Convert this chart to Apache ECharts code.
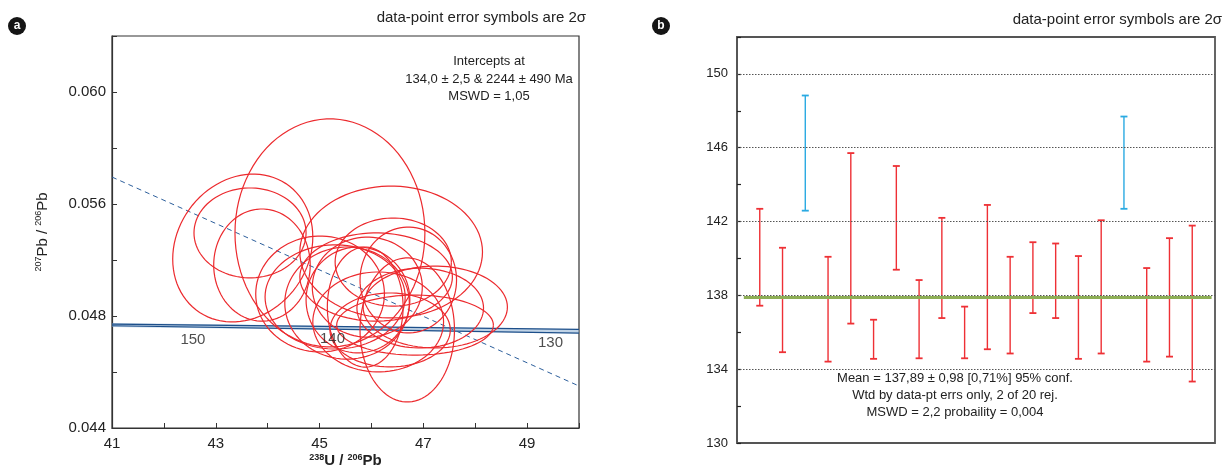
<!DOCTYPE html>
<html>
<head>
<meta charset="utf-8">
<script src="https://cdn.jsdelivr.net/npm/echarts@6/dist/echarts.min.js"></script>
<style>html,body{margin:0;padding:0;background:#fff;}#c{width:1229px;height:465px;}</style>
</head>
<body>
<div id="c"></div>
<script>
// ---------- Panel a: Tera-Wasserburg data ----------
const ellX   = [43.52,43.66,43.89,45.20,46.38,46.69,47.23,46.84,45.01,45.30,45.53,45.92,46.42,46.09,46.36,46.94,45.88,46.71,45.74,46.13];
const ellY   = [0.05257,0.05329,0.05176,0.05329,0.05238,0.04867,0.04976,0.04890,0.05038,0.05024,0.04995,0.05071,0.05190,0.05119,0.04867,0.04971,0.04976,0.05105,0.05010,0.04905];
const ellSx  = [1.35,1.08,0.93,1.83,1.76,0.91,1.39,1.51,1.24,1.35,1.20,1.06,1.12,1.47,1.16,1.22,0.73,0.93,1.00,1.26];
const ellSy  = [0.00352,0.00214,0.00267,0.00543,0.00314,0.00343,0.00195,0.00143,0.00276,0.00248,0.00267,0.00238,0.00210,0.00210,0.00176,0.00190,0.00286,0.00252,0.00252,0.00238];
const ellRho = [0.15,0,0,0,0,0,0,0,0,0,0,0,0,0,0,0,0,0,0,0];

const concX     = [41, 45.5, 50];
const concUpper = [0.04895, 0.04883, 0.04870];
const concLower = [0.04887, 0.04870, 0.04852];
const regX = [41, 50];
const regY = [0.05595, 0.04600];
const ageLabels = ['150','140','130'];
const ageLabelX = [42.56, 45.25, 49.45];
const ageLabelY = [0.04819, 0.04824, 0.04805];

const xTickLabels = ['41','43','45','47','49'];
const yTickLabels = ['0.044','0.048','0.056','0.060'];

// ---------- Panel b: weighted mean data ----------
const ageLow  = [137.44,134.92,142.59,134.41,136.47,134.56,139.39,134.59,136.77,134.59,135.08,134.85,137.04,136.77,134.56,134.85,142.69,134.41,134.68,133.33];
const ageHigh = [142.69,140.58,148.83,140.09,145.71,136.68,145.01,138.83,142.20,137.39,142.90,140.09,140.88,140.81,140.13,142.07,147.69,139.48,141.10,141.78];
const rejected = [0,0,1,0,0,0,0,0,0,0,0,0,0,0,0,0,1,0,0,0];
const meanAge = 137.89;
const gridAges = [134,138,142,146,150];
const bTickLabels = ['130','134','138','142','146','150'];

// ---------- helpers ----------
const FONT = '"Liberation Sans", Arial, Helvetica, sans-serif';
const yStep = (0.060 - 0.044) / (yTickLabels.length - 1);
const yLabelVals = yTickLabels.map((_, i) => 0.044 + i * yStep);
const yTickVals = [];
for (let k = 0; k <= 7; k++) yTickVals.push(0.044 + k * yStep / 2);

const ellData = ellX.map((x, i) => [x, ellY[i], ellSx[i], ellSy[i], ellRho[i]]);
const barData = ageLow.map((lo, i) => [i + 1, lo, ageHigh[i], rejected[i]]);

const chart = echarts.init(document.getElementById('c'), null, {renderer: 'canvas'});

const option = {
  backgroundColor: '#fff',
  animation: false,
  grid: [
    {left: 112, top: 36, width: 467, height: 392, show: true, borderColor: '#333', borderWidth: 1.2, backgroundColor: 'transparent', containLabel: false, outerBoundsMode: 'none'},
    {left: 737, top: 37, width: 478, height: 406, show: true, borderColor: '#555', borderWidth: 1.8, backgroundColor: 'transparent', containLabel: false, outerBoundsMode: 'none'}
  ],
  xAxis: [
    {
      gridIndex: 0, type: 'value', min: 41, max: 50, interval: 1,
      axisLine: {show: true, onZero: false, lineStyle: {color: '#333', width: 1.2}},
      axisTick: {show: true, inside: true, length: 5, lineStyle: {color: '#333'}},
      axisLabel: {
        color: '#222', fontSize: 15, fontFamily: FONT, margin: 8,
        formatter: v => xTickLabels.indexOf(String(v)) >= 0 ? String(v) : ''
      },
      splitLine: {show: false},
      name: '{sup|238}{b|U / }{sup|206}{b|Pb}', nameLocation: 'middle', nameGap: 25, nameMoveOverlap: false,
      nameTextStyle: {
        fontFamily: FONT, color: '#222',
        rich: {
          b: {fontSize: 15, fontWeight: 'bold', fontFamily: FONT, color: '#222', lineHeight: 16},
          sup: {fontSize: 9, fontWeight: 'bold', fontFamily: FONT, color: '#222', lineHeight: 9, verticalAlign: 'top'}
        }
      }
    },
    {
      gridIndex: 1, type: 'value', min: 0, max: 21,
      axisLine: {show: false}, axisTick: {show: false}, axisLabel: {show: false}, splitLine: {show: false}
    }
  ],
  yAxis: [
    {
      gridIndex: 0, type: 'value', min: 0.044, max: 0.044 + 3.5 * yStep,
      axisLine: {show: true, onZero: false, lineStyle: {color: '#333', width: 1.2}},
      axisTick: {show: true, inside: true, length: 5, customValues: yTickVals, lineStyle: {color: '#333'}},
      axisLabel: {
        color: '#222', fontSize: 15, fontFamily: FONT, margin: 6, customValues: yLabelVals,
        formatter: v => {
          let best = 0, bd = 1;
          yLabelVals.forEach((lv, i) => { const d = Math.abs(lv - v); if (d < bd) { bd = d; best = i; } });
          return yTickLabels[best];
        }
      },
      splitLine: {show: false},
      name: '{sup|207}{n|Pb / }{sup|206}{n|Pb}', nameLocation: 'middle', nameGap: 60, nameRotate: 90,
      nameTextStyle: {
        fontFamily: FONT, color: '#222',
        rich: {
          n: {fontSize: 15, fontFamily: FONT, color: '#222', lineHeight: 18},
          sup: {fontSize: 9, fontFamily: FONT, color: '#222', lineHeight: 9, verticalAlign: 'top'}
        }
      }
    },
    {
      gridIndex: 1, type: 'value', min: 130, max: 152, interval: 2,
      axisLine: {show: true, onZero: false, lineStyle: {color: '#555', width: 1.8}},
      axisTick: {show: true, inside: true, length: 4, lineStyle: {color: '#222', width: 1.2}},
      axisLabel: {
        color: '#222', fontSize: 13, fontFamily: FONT, margin: 9,
        formatter: v => bTickLabels.indexOf(String(v)) >= 0 ? String(v) : ''
      },
      splitLine: {show: false}
    }
  ],
  graphic: [
    {type: 'circle', shape: {cx: 17, cy: 26, r: 9}, style: {fill: '#151515'}},
    {type: 'text', style: {text: 'a', x: 17, y: 26, fill: '#fff', font: 'bold 12px ' + FONT, align: 'center', verticalAlign: 'middle', textAlign: 'center', textVerticalAlign: 'middle'}},
    {type: 'circle', shape: {cx: 661, cy: 26, r: 9}, style: {fill: '#151515'}},
    {type: 'text', style: {text: 'b', x: 661, y: 26, fill: '#fff', font: 'bold 12px ' + FONT, align: 'center', verticalAlign: 'middle', textAlign: 'center', textVerticalAlign: 'middle'}},
    {type: 'text', style: {text: 'data-point error symbols are 2\u03c3', x: 586, y: 18, fill: '#222', font: '15px ' + FONT, align: 'right', verticalAlign: 'middle', textAlign: 'right', textVerticalAlign: 'middle'}},
    {type: 'text', style: {text: 'data-point error symbols are 2\u03c3', x: 1222, y: 20, fill: '#222', font: '15px ' + FONT, align: 'right', verticalAlign: 'middle', textAlign: 'right', textVerticalAlign: 'middle'}},
    {type: 'text', style: {text: 'Intercepts at\n134,0 \u00b1 2,5 & 2244 \u00b1 490 Ma\nMSWD = 1,05', x: 489, y: 53, fill: '#222', font: '13px ' + FONT, lineHeight: 17.5, align: 'center', verticalAlign: 'top', textAlign: 'center', textVerticalAlign: 'top'}},
    {type: 'text', style: {text: 'Mean = 137,89 \u00b1 0,98 [0,71%] 95% conf.\nWtd by data-pt errs only, 2 of 20 rej.\nMSWD = 2,2 probaility = 0,004', x: 955, y: 370, fill: '#222', font: '13px ' + FONT, lineHeight: 17, align: 'center', verticalAlign: 'top', textAlign: 'center', textVerticalAlign: 'top'}}
  ],
  series: [
    {
      type: 'line', xAxisIndex: 0, yAxisIndex: 0, symbol: 'none', silent: true, z: 2,
      data: concX.map((x, i) => [x, (concUpper[i] + concLower[i]) / 2]),
      lineStyle: {color: 'rgba(140,175,210,0.55)', width: 4}
    },
    {
      type: 'line', xAxisIndex: 0, yAxisIndex: 0, symbol: 'none', silent: true, z: 3,
      data: concX.map((x, i) => [x, concUpper[i]]),
      lineStyle: {color: '#1d4f8a', width: 1.2}
    },
    {
      type: 'line', xAxisIndex: 0, yAxisIndex: 0, symbol: 'none', silent: true, z: 3,
      data: concX.map((x, i) => [x, concLower[i]]),
      lineStyle: {color: '#1d4f8a', width: 1.2}
    },
    {
      type: 'line', xAxisIndex: 0, yAxisIndex: 0, symbol: 'none', silent: true, z: 3,
      data: regX.map((x, i) => [x, regY[i]]),
      lineStyle: {color: '#2d5f9c', width: 1, type: [5, 4]}
    },
    {
      type: 'custom', xAxisIndex: 0, yAxisIndex: 0, clip: true, z: 4, silent: true,
      data: ellData,
      renderItem: (params, api) => {
        const cx = api.value(0), cy = api.value(1), sx = api.value(2), sy = api.value(3), rho = api.value(4);
        const pts = [];
        const n = 90;
        const k = Math.sqrt(1 - rho * rho);
        for (let j = 0; j <= n; j++) {
          const t = j / n * Math.PI * 2;
          pts.push(api.coord([cx + sx * Math.cos(t), cy + sy * (rho * Math.cos(t) + k * Math.sin(t))]));
        }
        return {type: 'polyline', shape: {points: pts}, style: {stroke: '#ec2a2e', lineWidth: 1.2, fill: null}};
      }
    },
    {
      type: 'scatter', xAxisIndex: 0, yAxisIndex: 0, symbolSize: 0, silent: true, z: 6,
      data: ageLabels.map((s, i) => ({name: s, value: [ageLabelX[i], ageLabelY[i]]})),
      label: {show: true, position: 'inside', formatter: '{b}', color: '#222', fontSize: 15, fontFamily: FONT}
    },
    {
      type: 'line', xAxisIndex: 1, yAxisIndex: 1, data: [], silent: true,
      markLine: {
        silent: true, symbol: 'none', label: {show: false},
        lineStyle: {color: '#555', width: 1, type: [1.5, 1.5]},
        data: gridAges.map(v => ({yAxis: v}))
      }
    },
    {
      type: 'custom', xAxisIndex: 1, yAxisIndex: 1, z: 4, silent: true,
      data: barData,
      renderItem: (params, api) => {
        const x = api.value(0), lo = api.value(1), hi = api.value(2), rej = api.value(3);
        const p1 = api.coord([x, lo]), p2 = api.coord([x, hi]);
        const col = rej ? '#2aaae2' : '#ee3035';
        const w = 3.5;
        const st = {stroke: col, lineWidth: 1.4};
        return {type: 'group', children: [
          {type: 'line', shape: {x1: p1[0], y1: p1[1], x2: p2[0], y2: p2[1]}, style: st},
          {type: 'line', shape: {x1: p1[0] - w, y1: p1[1], x2: p1[0] + w, y2: p1[1]}, style: {stroke: col, lineWidth: 1.8}},
          {type: 'line', shape: {x1: p2[0] - w, y1: p2[1], x2: p2[0] + w, y2: p2[1]}, style: {stroke: col, lineWidth: 1.8}}
        ]};
      }
    },
    {
      type: 'line', xAxisIndex: 1, yAxisIndex: 1, symbol: 'none', silent: true, z: 5,
      data: [[0.3, meanAge], [20.85, meanAge]],
      lineStyle: {color: '#8dae55', width: 3}
    }
  ]
};
chart.setOption(option);
</script>
</body>
</html>
